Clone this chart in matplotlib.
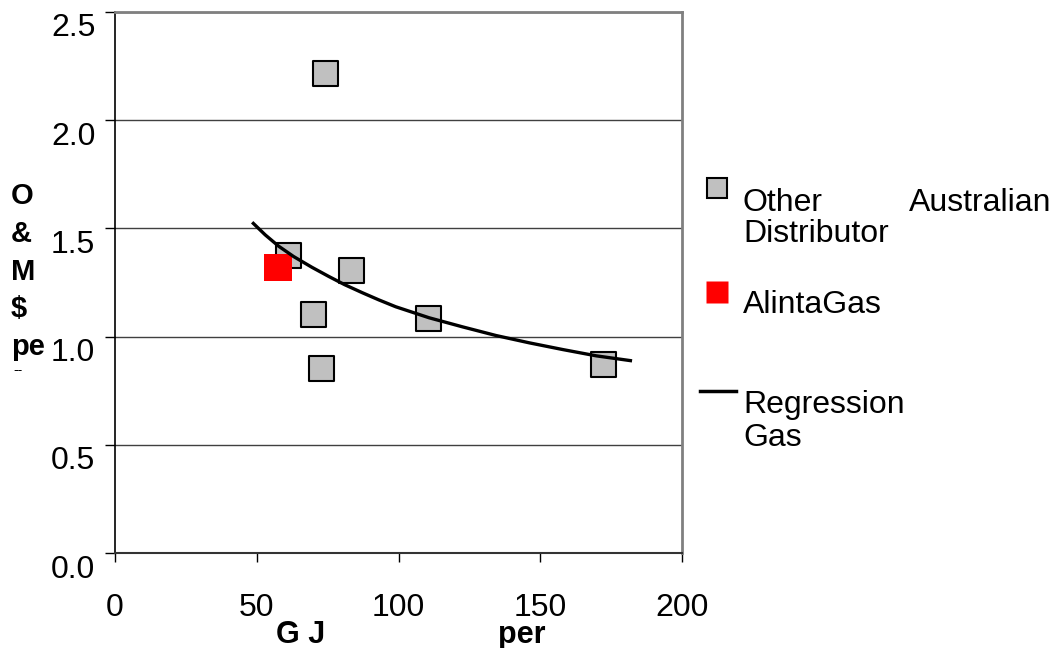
import matplotlib.pyplot as plt
import matplotlib.transforms as mtransforms
from matplotlib.lines import Line2D

plt.rcParams['font.family'] = ['Liberation Sans', 'DejaVu Sans']

# Daten
other_x = [73.9, 61.0, 83.2, 70.0, 72.7, 110.3, 172.0]
other_y = [2.22, 1.376, 1.308, 1.106, 0.855, 1.087, 0.875]
alinta_x = [57.5]
alinta_y = [1.321]
reg_x = [48.8, 53.0, 57.7, 63.0, 69.5, 75.4, 81.0, 87.2, 93.0, 99.0, 110.8, 122.6,
         134.4, 146.2, 158.0, 169.8, 181.8]
reg_y = [1.523, 1.47, 1.418, 1.37, 1.32, 1.278, 1.24, 1.203, 1.17, 1.138, 1.087, 1.045,
         1.005, 0.971, 0.940, 0.911, 0.889]
x_ticks = [0, 50, 100, 150, 200]
y_ticks = [0.0, 0.5, 1.0, 1.5, 2.0, 2.5]
ylabel_lines = ["O", "&", "M", r"\$", "pe"]
legend_labels = ["Other", "Australian", "Distributor", "AlintaGas", "Regression", "Gas"]

W, H = 1058, 648


def px(x, y):
    return (x / W, 1 - y / H)


def draw():
    fig = plt.figure(figsize=(W / 100, H / 100), dpi=100)
    ax = fig.add_axes([115 / W, 95 / H, 567 / W, 541 / H])

    ax.scatter(other_x, other_y, marker='s', s=18**2, c='#c0c0c0',
               edgecolors='black', linewidths=1.5, zorder=3)
    ax.scatter(alinta_x, alinta_y, marker='s', s=19.5**2, c='#ff0000',
               edgecolors='none', zorder=4)
    ax.plot(reg_x, reg_y, '-', color='black', lw=2.4, zorder=5)

    ax.set_xlim(0, 200)
    ax.set_ylim(0, 2.5)
    ax.set_xticks(x_ticks)
    ax.set_yticks(y_ticks)
    ax.set_yticklabels([f'{v:.1f}' for v in y_ticks])
    ax.tick_params(axis='x', direction='out', length=6.5, width=1,
                   labelsize=23, pad=22, top=False)
    ax.tick_params(axis='y', direction='out', length=7.2, width=1,
                   labelsize=23, pad=7, right=False)
    off = mtransforms.ScaledTranslation(0, -13 / 100, fig.dpi_scale_trans)
    for lab in ax.get_yticklabels():
        lab.set_transform(lab.get_transform() + off)

    ax.grid(axis='y', color='#404040', lw=1)
    ax.grid(axis='x', visible=False)
    ax.set_axisbelow(True)
    ax.spines['left'].set_color('black')
    ax.spines['left'].set_linewidth(1.2)
    ax.spines['bottom'].set_color('#333333')
    ax.spines['bottom'].set_linewidth(1.5)
    for s in ['top', 'right']:
        ax.spines[s].set_color('#808080')
        ax.spines[s].set_linewidth(2)

    # y-Achsenbeschriftung (abgeschnitten, gestapelt)
    for i, t in enumerate(ylabel_lines):
        fig.text(*px(11, 204 + i * 37.8), t, fontsize=21, fontweight='bold',
                 ha='left', va='baseline')
    fig.text(*px(13, 374), "--", fontsize=10, ha='left', va='baseline')

    # x-Achsenbeschriftung
    fig.text(*px(301, 643), "G J", fontsize=22, fontweight='bold',
             ha='center', va='baseline')
    fig.text(*px(522, 643), "per", fontsize=22, fontweight='bold',
             ha='center', va='baseline')

    # Legende
    fig.add_artist(Line2D(*zip(px(717, 188)), marker='s', ms=14.5, mfc='#c0c0c0',
                          mec='black', mew=1.5, ls='none', transform=fig.transFigure))
    fig.add_artist(Line2D(*zip(px(717, 292)), marker='s', ms=15.5, mfc='#ff0000',
                          mec='none', ls='none', transform=fig.transFigure))
    (x0, y0), (x1, y1) = px(700, 391), px(736, 391)
    fig.add_artist(Line2D([x0, x1], [y0, y1], color='black', lw=2.5,
                          transform=fig.transFigure))

    fs = 23
    fig.text(*px(743, 211), legend_labels[0], fontsize=fs, ha='left', va='baseline')
    fig.text(*px(1051, 211), legend_labels[1], fontsize=fs, ha='right', va='baseline')
    fig.text(*px(743, 242), legend_labels[2], fontsize=fs, ha='left', va='baseline')
    fig.text(*px(743, 313), legend_labels[3], fontsize=fs, ha='left', va='baseline')
    fig.text(*px(743, 413), legend_labels[4], fontsize=fs, ha='left', va='baseline')
    fig.text(*px(743, 446), legend_labels[5], fontsize=fs, ha='left', va='baseline')

    fig.savefig('out.png', dpi=100, facecolor='white')


if __name__ == '__main__':
    draw()
